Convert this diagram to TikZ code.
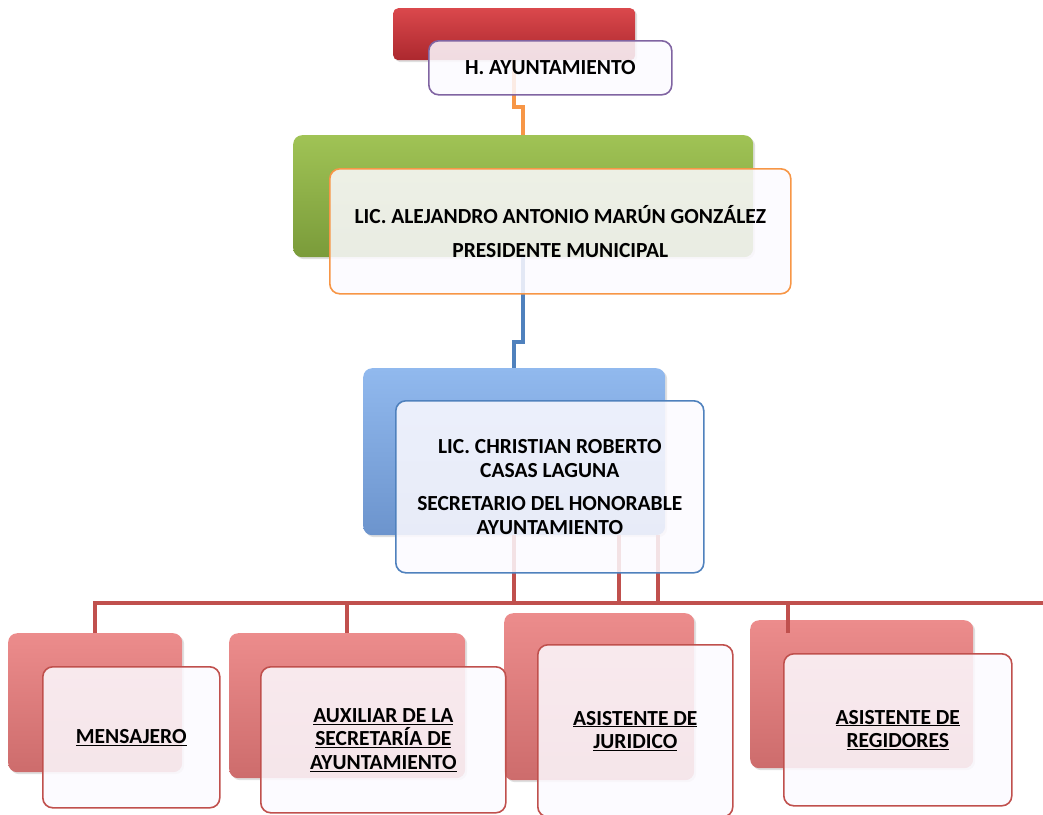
\documentclass[tikz,border=0pt]{standalone}
\usepackage{fontspec}
\setmainfont{Carlito}
\usetikzlibrary{positioning,calc,shadows}
\definecolor{OrgRed}{RGB}{192,80,77}
\definecolor{OrgOrange}{RGB}{247,150,70}
\definecolor{OrgBlue}{RGB}{79,129,189}
\definecolor{OrgPurple}{RGB}{128,100,162}
\definecolor{HeadTop}{RGB}{218,72,76}
\definecolor{HeadBot}{RGB}{172,40,46}
\definecolor{GreenTop}{RGB}{160,195,85}
\definecolor{GreenBot}{RGB}{122,155,58}
\definecolor{BlueTop}{RGB}{145,185,238}
\definecolor{BlueBot}{RGB}{108,148,205}
\definecolor{PinkTop}{RGB}{236,140,140}
\definecolor{PinkBot}{RGB}{205,108,108}
\definecolor{FrontFill}{RGB}{252,250,255}
\tikzset{
  backbox/.style={anchor=north west,inner sep=0pt,rounded corners=9pt,
    drop shadow={shadow xshift=2pt,shadow yshift=-2pt,opacity=0.25}},
  headback/.style={backbox,top color=HeadTop,bottom color=HeadBot,rounded corners=5pt},
  greenback/.style={backbox,top color=GreenTop,bottom color=GreenBot},
  blueback/.style={backbox,top color=BlueTop,bottom color=BlueBot},
  pinkback/.style={backbox,top color=PinkTop,bottom color=PinkBot},
  frontbox/.style={anchor=north west,inner sep=0pt,draw,line width=1.6pt,
    rounded corners=10pt,fill=FrontFill,fill opacity=0.86,text opacity=1,
    align=center,font=\bfseries\fontsize{21.5}{23.5}\selectfont},
  unitbox/.style={frontbox,draw=OrgRed},
  link/.style={line width=4pt}
}

\begin{document}
\begin{tikzpicture}[x=1pt,y=-1pt]
  \useasboundingbox (0,0) rectangle (1043,814);
  % back boxes
  \node[headback,minimum width=242pt,minimum height=52pt] (ayuntB) at (393,8) {};
  \node[greenback,minimum width=460pt,minimum height=122pt] (presB) at (293,135) {};
  \node[blueback,minimum width=302pt,minimum height=167pt] (secB) at (363,368) {};
  \node[pinkback,minimum width=174pt,minimum height=139pt] (mensB) at (8,633) {};
  \node[pinkback,minimum width=236pt,minimum height=145pt] (auxB) at (229,633) {};
  \node[pinkback,minimum width=190pt,minimum height=167pt] (jurB) at (504,613) {};
  \node[pinkback,minimum width=223pt,minimum height=148pt] (regB) at (750,620) {};
  % connectors
  \coordinate (busR) at (1043,603);
  \coordinate (regDrop) at (788,633);
  \draw[link,draw=OrgOrange] (ayuntB.south) -- ++(0,47) -| (presB.north);
  \draw[link,draw=OrgBlue] (presB.south) -- ++(0,85) -| (secB.north);
  \draw[link,draw=OrgRed] (mensB.north) |- (busR);
  \draw[link,draw=OrgRed] (auxB.north) -- (auxB.north |- busR);
  \draw[link,draw=OrgRed] (secB.south) -- (secB.south |- busR);
  \draw[link,draw=OrgRed] ([xshift=105pt]secB.south) -- ([xshift=105pt]secB.south |- busR);
  \draw[link,draw=OrgRed] ([xshift=144pt]secB.south) -- ([xshift=144pt]secB.south |- busR);
  \draw[link,draw=OrgRed] (regDrop) -- (regDrop |- busR);
  % front boxes
  \node[frontbox,draw=OrgPurple,minimum width=243pt,minimum height=54pt] (ayunt)
    at ([shift={(35,32)}]ayuntB.north west) {H. AYUNTAMIENTO};
  \node[frontbox,draw=OrgOrange,minimum width=461pt,minimum height=125pt] (pres)
    at ([shift={(36,33)}]presB.north west)
    {LIC. ALEJANDRO ANTONIO MARÚN GONZÁLEZ\\[10pt]PRESIDENTE MUNICIPAL};
  \node[frontbox,draw=OrgBlue,minimum width=308pt,minimum height=172pt] (sec)
    at ([shift={(32,32)}]secB.north west)
    {LIC. CHRISTIAN ROBERTO\\CASAS LAGUNA\\[10pt]SECRETARIO DEL HONORABLE\\AYUNTAMIENTO};
  \node[unitbox,minimum width=177pt,minimum height=141pt] (mens)
    at ([shift={(34,33)}]mensB.north west) {\underline{MENSAJERO}};
  \node[unitbox,minimum width=245pt,minimum height=146pt] (aux)
    at ([shift={(31,33)}]auxB.north west)
    {\underline{AUXILIAR DE LA}\\\underline{SECRETARÍA DE}\\\underline{AYUNTAMIENTO}};
  \node[unitbox,minimum width=195pt,minimum height=172pt] (jur)
    at ([shift={(33,31)}]jurB.north west)
    {\underline{ASISTENTE DE}\\\underline{JURIDICO}};
  \node[unitbox,minimum width=228pt,minimum height=152pt] (reg)
    at ([shift={(33,33)}]regB.north west)
    {\underline{ASISTENTE DE}\\\underline{REGIDORES}};
\end{tikzpicture}
\end{document}
